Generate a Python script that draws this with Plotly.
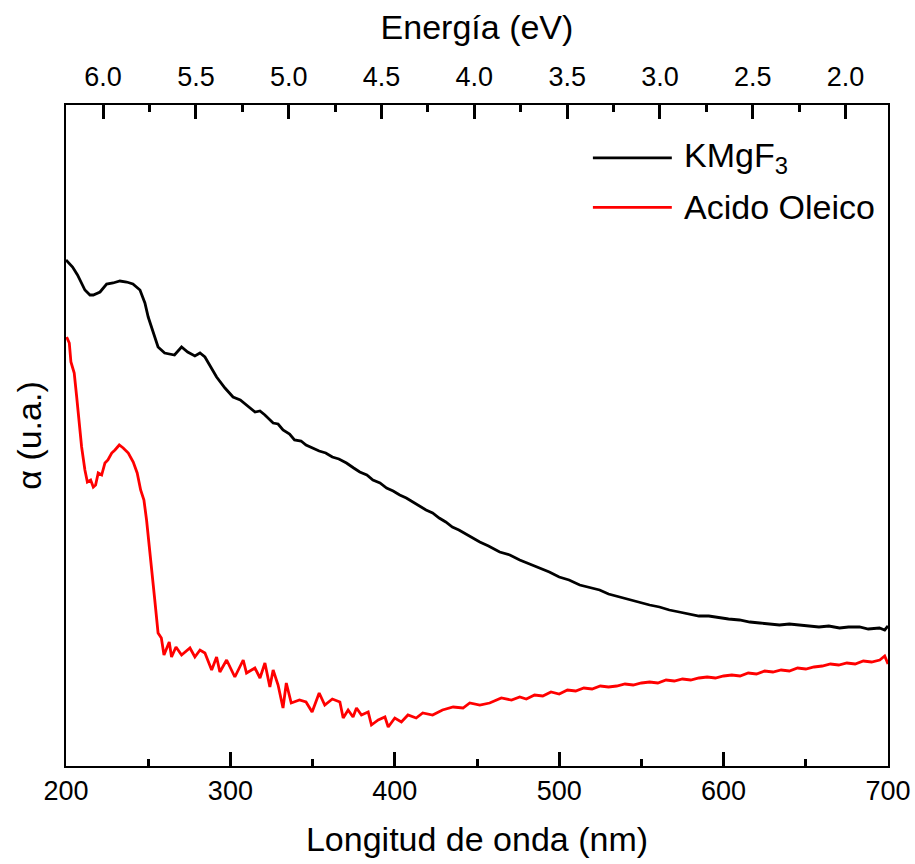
import plotly.graph_objects as go

# Absorption spectra (arbitrary units) vs wavelength in nm
wl_kmgf3 = [200, 204, 207, 211.5, 214.6, 216.6, 220.7, 224.7, 228.6, 232.8, 236.9, 240.7,
            245, 248, 250, 253, 256, 260, 266, 270.3, 274, 278.4, 281.5, 284.5, 287.5,
            291.6, 296.7, 301.6, 306, 310, 315, 318, 321, 326, 329, 332, 336, 339, 343,
            346, 350, 354, 358, 362, 366, 370.6, 375, 378.7, 383, 386.7, 391, 395, 399,
            403, 407, 411, 415, 419, 423, 427, 431, 435, 439, 443, 447, 451.7, 457, 463.8,
            470, 476, 482, 488, 494, 500, 506, 512.5, 518, 524.6, 530, 536.8, 543, 549,
            555, 561, 567, 573, 579, 585, 591, 597.6, 603, 609.7, 616, 622, 628, 634, 640,
            646, 652, 658, 664, 670.5, 676, 682.7, 688, 694.8, 698, 700]
a_kmgf3 = [5.06, 4.99, 4.91, 4.76, 4.71, 4.71, 4.74, 4.82, 4.83, 4.85, 4.84, 4.82,
           4.76, 4.63, 4.49, 4.33, 4.19, 4.13, 4.11, 4.19, 4.14, 4.10, 4.13, 4.09, 4.01,
           3.89, 3.78, 3.69, 3.66, 3.61, 3.54, 3.55, 3.51, 3.43, 3.42, 3.36, 3.32, 3.26, 3.25,
           3.21, 3.18, 3.15, 3.13, 3.09, 3.07, 3.03, 2.98, 2.94, 2.91, 2.86, 2.83, 2.78, 2.75,
           2.71, 2.68, 2.64, 2.60, 2.56, 2.53, 2.48, 2.44, 2.39, 2.36, 2.32, 2.28, 2.24, 2.20, 2.14,
           2.11, 2.06, 2.02, 1.98, 1.94, 1.89, 1.86, 1.81, 1.79, 1.76, 1.72, 1.69, 1.66, 1.63,
           1.61, 1.59, 1.56, 1.54, 1.52, 1.50, 1.50, 1.48, 1.47, 1.46, 1.44, 1.43, 1.42, 1.41, 1.42,
           1.41, 1.40, 1.39, 1.40, 1.38, 1.39, 1.39, 1.37, 1.38, 1.36, 1.40]

wl_oleico = [200.4, 202, 203, 205, 206.5, 208, 209.5, 211.5, 213, 215, 216.6, 218, 219.6,
             221.7, 223.7, 225.5, 227.8, 229.8, 232.4, 234.8, 237.9, 240.9, 243.3, 245.4,
             247.4, 249, 251, 252.5, 254, 256, 258, 259.6, 262.8, 264.2, 266.9, 270.3, 275.4,
             278.4, 281.5, 284.5, 288.6, 291.6, 293.6, 297.7, 302.7, 307.8, 309.8, 314.9,
             318, 321, 324, 326, 329, 332, 334, 337, 342, 346, 349.7, 354, 357.4, 362, 366.6,
             368.6, 371.6, 374.6, 376.7, 379.7, 383.8, 385.8, 389.9, 394, 396, 400, 404, 408,
             413, 417, 423, 429, 435.5, 441.5, 445.6, 451.7, 457.7, 464.8, 471, 476, 480, 485,
             490, 495, 500, 505, 510, 515, 520, 525, 530, 535, 540, 545, 550, 555, 560, 565,
             570, 575, 580, 585, 590, 595, 600, 605, 610, 615, 620, 625, 630, 635, 640, 645,
             650, 655, 660, 665, 670, 675, 680, 685, 690, 695, 698, 700]
a_oleico = [4.29, 4.23, 4.04, 3.93, 3.69, 3.46, 3.19, 2.96, 2.84, 2.86, 2.79, 2.81, 2.93,
            2.91, 3.03, 3.06, 3.13, 3.16, 3.21, 3.18, 3.13, 3.04, 2.93, 2.76,
            2.66, 2.46, 2.16, 1.91, 1.66, 1.33, 1.28, 1.11, 1.24, 1.09, 1.19, 1.11, 1.18,
            1.09, 1.16, 1.13, 0.96, 1.09, 0.94, 1.06, 0.89, 1.06, 0.93, 0.98,
            0.88, 1.03, 0.79, 0.96, 0.81, 0.58, 0.83, 0.63, 0.66, 0.64, 0.54, 0.73, 0.61, 0.67, 0.64,
            0.48, 0.56, 0.49, 0.58, 0.51, 0.54, 0.41, 0.46, 0.49, 0.39, 0.48, 0.44, 0.51,
            0.48, 0.53, 0.51, 0.56, 0.59, 0.58, 0.63, 0.61, 0.63, 0.68, 0.66, 0.69, 0.67, 0.71,
            0.70, 0.74, 0.72, 0.76, 0.75, 0.78, 0.77, 0.80, 0.79, 0.80, 0.82, 0.81, 0.83, 0.84, 0.83, 0.86,
            0.85, 0.87, 0.86, 0.88, 0.89, 0.88, 0.90, 0.91, 0.90, 0.93, 0.92, 0.95, 0.94, 0.96, 0.95, 0.98,
            0.97, 0.99, 1.00, 1.02, 1.01, 1.03, 1.02, 1.05, 1.04, 1.06, 1.10, 1.02]

# Top axis: photon energy, spanning 1240/200 .. 1240/700 eV linearly
energy_range = [1240 / 200, 1240 / 700]
energy_ticks = [6.0, 5.5, 5.0, 4.5, 4.0, 3.5, 3.0, 2.5, 2.0]
energy_labels = ["6.0", "5.5", "5.0", "4.5", "4.0", "3.5", "3.0", "2.5", "2.0"]
energy_minor = [5.75, 5.25, 4.75, 4.25, 3.75, 3.25, 2.75, 2.25, 1.75]

series_names = ["KMgF<sub>3</sub>", "Acido Oleico"]
series_colors = ["#000000", "#ff0000"]

FONT = "Liberation Sans, Arial, sans-serif"
TICK_W = 3

fig = go.Figure()
fig.add_trace(go.Scatter(x=wl_kmgf3, y=a_kmgf3, mode="lines",
                         line=dict(color=series_colors[0], width=2.8), showlegend=False))
fig.add_trace(go.Scatter(x=wl_oleico, y=a_oleico, mode="lines",
                         line=dict(color=series_colors[1], width=2.8), showlegend=False))
# empty trace that attaches the energy axis along the top edge
fig.add_trace(go.Scatter(x=energy_range, y=[None, None], xaxis="x2", yaxis="y",
                         mode="markers", marker=dict(opacity=0),
                         showlegend=False, hoverinfo="skip"))

fig.update_layout(
    width=915, height=864,
    margin=dict(l=66, r=27, t=105, b=98, autoexpand=False),
    plot_bgcolor="white", paper_bgcolor="white",
    font=dict(family=FONT, color="black", size=27),
    xaxis=dict(
        range=[200, 700], dtick=100, tick0=200, automargin=False,
        showline=True, linecolor="black", linewidth=2, mirror=True,
        ticks="inside", ticklen=14, tickwidth=TICK_W, tickcolor="black",
        minor=dict(ticks="inside", ticklen=7, tickwidth=TICK_W, tickcolor="black", dtick=50),
        showgrid=False, zeroline=False,
        tickfont=dict(size=27),
        title=dict(text="Longitud de onda (nm)", font=dict(size=34), standoff=22),
    ),
    xaxis2=dict(
        overlaying="x", side="top", anchor="y", range=energy_range, automargin=False,
        tickmode="array", tickvals=energy_ticks, ticktext=energy_labels,
        ticks="inside", ticklen=14, tickwidth=TICK_W, tickcolor="black",
        ticklabelstandoff=13,
        minor=dict(ticks="inside", ticklen=7, tickwidth=TICK_W, tickcolor="black",
                   tickvals=energy_minor),
        showline=False, showgrid=False, zeroline=False,
        tickfont=dict(size=27),
        title=dict(text="Energía (eV)", font=dict(size=34), standoff=11),
    ),
    yaxis=dict(
        range=[0, 6.61], showticklabels=False, ticks="", automargin=False,
        showline=True, linecolor="black", linewidth=2, mirror=True,
        showgrid=False, zeroline=False,
        title=dict(text="α (u.a.)", font=dict(size=34), standoff=12),
    ),
)

# Legend drawn as line samples with text labels
legend_y = [0.92, 0.845]
for name, color, ly in zip(series_names, series_colors, legend_y):
    fig.add_shape(type="line", xref="paper", yref="paper",
                  x0=0.641, x1=0.737, y0=ly, y1=ly,
                  line=dict(color=color, width=2.8))
    fig.add_annotation(xref="paper", yref="paper", x=0.749, y=ly,
                       text=name, showarrow=False, xanchor="left", yanchor="middle",
                       font=dict(family=FONT, size=34, color="black"))

fig.write_html("out.html")
